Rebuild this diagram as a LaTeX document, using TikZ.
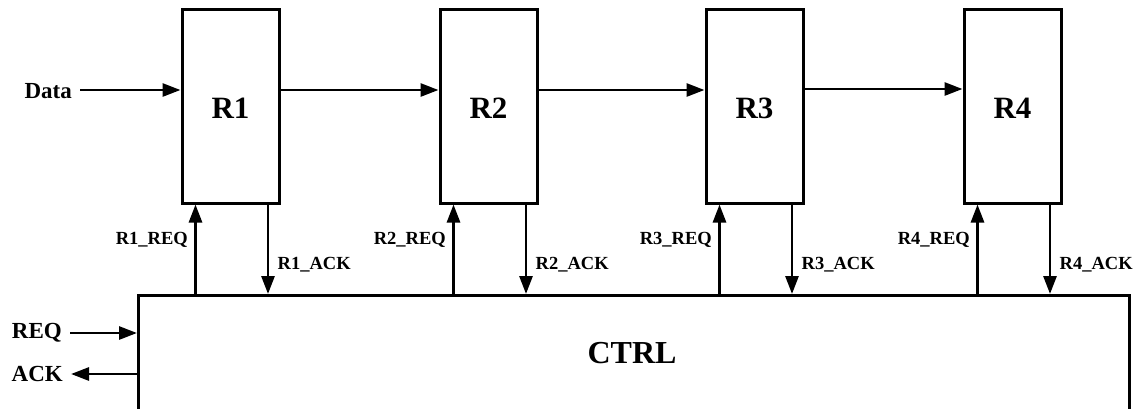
\documentclass[tikz,border=0pt]{standalone}
\usepackage{fontspec}
\setmainfont{Liberation Serif}
\usetikzlibrary{arrows.meta,calc}
\begin{document}
\begin{tikzpicture}[x=1pt,y=-1pt,
 reg/.style={draw, line width=3pt, minimum width=97pt, minimum height=194pt, inner sep=0pt, text height=25pt, text depth=0pt, font=\fontsize{31}{31}\selectfont\bfseries},
 arr/.style={line width=2.8pt, -{Triangle[length=18pt,width=13pt]}},
 io/.style={font=\fontsize{23}{23}\selectfont\bfseries, inner sep=0pt},
 sig/.style={font=\fontsize{18.5}{18.5}\selectfont\bfseries, inner sep=0pt}]
\useasboundingbox (0,0) rectangle (1137,408);
\node[reg] (R1) at (230.5,106) {R1};
\node[reg] (R2) at (488.5,106) {R2};
\node[reg] (R3) at (754.5,106) {R3};
\node[reg] (R4) at (1012.5,106) {R4};
\node[draw, line width=2.8pt, minimum width=991pt, minimum height=170pt, anchor=north west, inner sep=0pt] (ctrl) at (137,294) {};
\node[font=\fontsize{32}{32}\selectfont\bfseries, inner sep=0pt] (ctrltext) at (632,353) {CTRL};
% data path
\node[io, anchor=east] (data) at (72,91) {Data};
\draw[arr] ([xshift=8pt]data.east |- 0,90) -- (R1.west |- 0,90);
\draw[arr] (R1.east |- 0,90) -- (R2.west |- 0,90);
\draw[arr] (R2.east |- 0,90) -- (R3.west |- 0,90);
\draw[arr] (R3.east |- 0,89) -- (R4.west |- 0,89);
% REQ / ACK
\node[io, anchor=east] (req) at (62,333) {REQ};
\draw[arr] ([xshift=8pt]req.east) -- (ctrl.west |- req.east);
\node[io, anchor=east] (ack) at (63,374) {ACK};
\draw[arr] (ctrl.west |- ack.east) -- ([xshift=8pt]ack.east);
% handshake signals
\foreach \i in {1,2,3,4} {
  \coordinate (rq\i) at ([xshift=15pt]R\i.south west);
  \coordinate (ak\i) at ([xshift=-12.5pt]R\i.south east);
  \draw[arr] (rq\i |- ctrl.north) -- (rq\i);
  \draw[arr] (ak\i) -- (ak\i |- ctrl.north);
  \node[sig, anchor=east] (reql\i) at ($(rq\i)+(-7.5,35)$) {R\i\_REQ};
  \node[sig, anchor=west] (ackl\i) at ($(ak\i)+(9.5,60)$) {R\i\_ACK};
}
\end{tikzpicture}
\end{document}
